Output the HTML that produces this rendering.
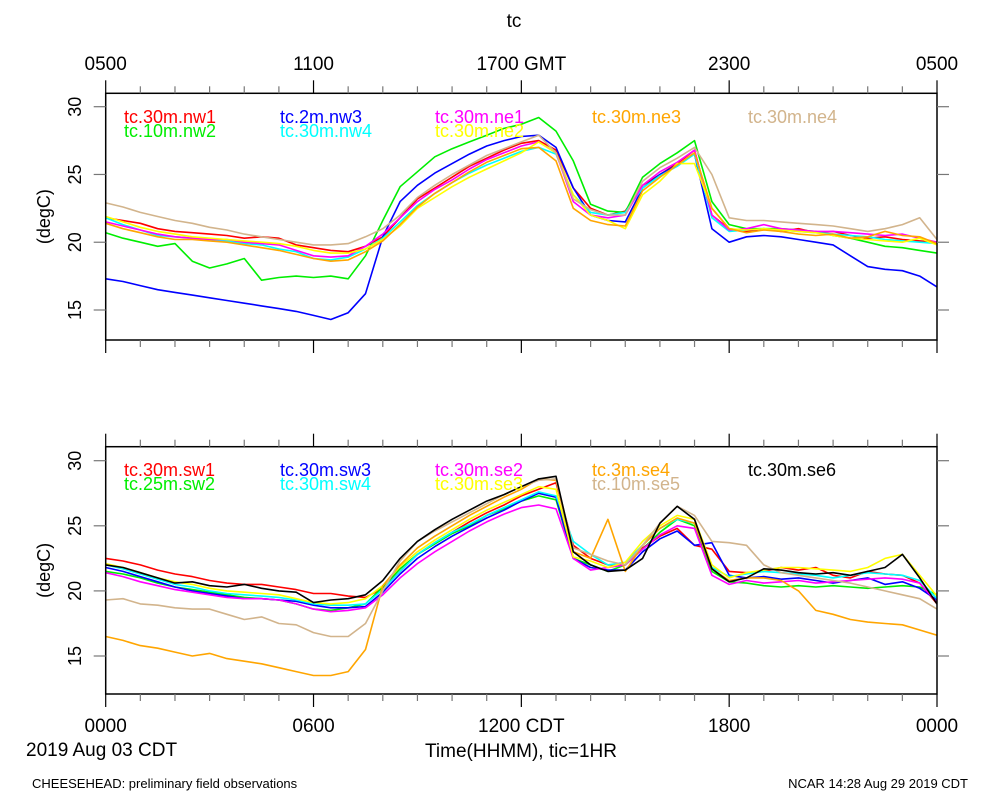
<!DOCTYPE html>
<html><head><meta charset="utf-8"><style>
html,body{margin:0;padding:0;background:#fff;}
svg{display:block;font-family:"Liberation Sans",Arial,sans-serif;}
</style></head><body>
<svg id="chart" width="1000" height="800" viewBox="0 0 1000 800"></svg>
<script>
// Shared time axis: hours since 0000 CDT, every 0.5 h
const hours = [0,0.5,1,1.5,2,2.5,3,3.5,4,4.5,5,5.5,6,6.5,7,7.5,8,8.5,9,9.5,10,10.5,11,11.5,12,12.5,13,13.5,14,14.5,15,15.5,16,16.5,17,17.5,18,18.5,19,19.5,20,20.5,21,21.5,22,22.5,23,23.5,24];
const topTickLabels = ["0500","1100","1700 GMT","2300","0500"];
const bottomTickLabels = ["0000","0600","1200 CDT","1800","0000"];
const yTickValues = [15,20,25,30];

// Top panel series
const nw1 = [21.8,21.6,21.4,21.0,20.8,20.7,20.6,20.5,20.3,20.4,20.3,19.8,19.6,19.4,19.3,19.7,20.4,21.8,23.2,24.0,24.8,25.6,26.2,26.8,27.3,27.5,26.8,24.0,22.5,22.0,22.3,24.2,25.0,25.8,26.8,22.0,21.0,20.8,21.0,20.8,21.0,20.7,20.8,20.5,20.3,20.4,20.2,20.1,20.0];
const nw2 = [20.7,20.3,20.0,19.7,19.9,18.6,18.1,18.4,18.8,17.2,17.4,17.5,17.4,17.5,17.3,19.0,21.6,24.1,25.2,26.3,26.9,27.4,27.9,28.4,28.7,29.2,28.2,26.0,22.8,22.3,22.2,24.8,25.8,26.6,27.5,23.0,21.3,21.0,21.0,21.0,20.9,20.8,20.5,20.3,20.0,19.7,19.6,19.4,19.2];
const nw3 = [17.3,17.1,16.8,16.5,16.3,16.1,15.9,15.7,15.5,15.3,15.1,14.9,14.6,14.3,14.8,16.2,20.4,23.0,24.2,25.1,25.8,26.5,27.1,27.5,27.8,27.9,27.0,24.0,22.0,21.6,21.5,24.0,25.0,25.7,26.5,21.0,20.0,20.4,20.5,20.4,20.2,20.0,19.8,19.0,18.2,18.0,17.9,17.5,16.7];
const nw4 = [21.8,21.3,20.9,20.5,20.4,20.3,20.2,20.1,19.9,19.8,19.5,19.3,18.8,18.7,18.9,19.5,20.3,21.5,22.7,23.6,24.4,25.1,25.7,26.2,26.7,27.0,26.5,23.5,22.2,22.0,22.2,24.0,24.9,25.6,26.5,21.8,20.8,20.9,21.0,20.9,20.8,20.7,20.6,20.5,20.4,20.2,20.1,20.0,19.9];
const ne1 = [21.5,21.2,20.9,20.6,20.4,20.3,20.2,20.2,20.0,19.9,19.8,19.4,19.0,18.9,19.0,19.7,20.6,21.8,23.0,23.9,24.6,25.4,26.1,26.6,27.1,27.4,26.6,23.0,22.0,21.8,22.0,24.2,25.2,25.9,26.8,22.0,20.9,21.0,21.3,21.0,20.9,20.8,20.8,20.7,20.6,20.5,20.6,20.3,20.0];
const ne2 = [21.9,21.5,21.1,20.8,20.6,20.4,20.3,20.2,20.1,20.0,19.9,19.7,19.4,19.2,19.2,19.5,20.2,21.2,22.5,23.3,24.1,24.8,25.4,26.0,26.6,27.4,26.6,23.5,22.0,21.6,21.0,23.5,24.5,25.8,25.8,22.5,21.0,20.9,21.0,20.9,20.8,20.7,20.5,20.3,20.2,20.1,20.0,20.3,19.8];
const ne3 = [21.4,21.0,20.7,20.4,20.2,20.2,20.1,20.0,19.8,19.6,19.4,19.1,18.8,18.6,18.7,19.3,20.1,21.3,22.6,23.6,24.4,25.2,25.9,26.4,26.9,27.0,26.0,22.5,21.6,21.3,21.2,23.8,24.8,25.7,26.6,22.5,21.0,20.7,20.9,20.8,20.6,20.5,20.6,20.3,20.4,20.8,20.5,20.4,19.9];
const ne4 = [22.9,22.6,22.2,21.9,21.6,21.4,21.1,20.9,20.6,20.4,20.2,20.0,19.8,19.8,19.9,20.4,21.0,22.0,23.3,24.2,25.0,25.7,26.4,26.9,27.4,27.9,26.6,23.2,22.4,22.0,22.0,24.5,25.5,26.2,27.0,25.0,21.8,21.6,21.6,21.5,21.4,21.3,21.2,21.0,20.8,21.0,21.3,21.8,20.2];

// Bottom panel series
const sw1 = [22.5,22.3,22.0,21.6,21.3,21.1,20.8,20.6,20.5,20.5,20.3,20.1,19.8,19.8,19.6,19.5,20.2,21.5,22.8,23.7,24.5,25.3,26.0,26.6,27.3,27.8,28.3,23.5,22.5,22.0,22.0,23.3,24.2,24.8,23.5,23.2,21.5,21.4,21.5,21.8,21.6,21.8,21.2,21.0,21.5,21.3,21.2,20.6,19.0];
const sw2 = [21.5,21.3,21.0,20.6,20.3,20.1,19.9,19.7,19.5,19.4,19.3,19.0,18.6,18.5,18.7,19.0,20.3,21.7,22.8,23.6,24.4,25.0,25.8,26.3,26.9,27.3,27.0,22.5,22.0,21.5,22.0,23.2,24.5,25.5,25.0,21.5,20.7,20.6,20.4,20.3,20.4,20.3,20.4,20.3,20.2,20.3,20.4,20.3,19.7];
const sw3 = [21.8,21.5,21.1,20.7,20.3,20.0,19.8,19.6,19.4,19.4,19.3,19.2,18.9,18.7,18.7,18.8,19.9,21.3,22.5,23.4,24.2,24.9,25.6,26.2,26.9,27.5,27.2,22.5,21.8,21.6,21.6,23.0,24.0,24.6,23.5,23.7,21.2,21.0,21.1,20.9,21.0,20.8,20.6,20.8,21.0,20.5,20.7,20.2,19.3];
const sw4 = [22.0,21.7,21.3,20.9,20.5,20.3,20.0,19.8,19.7,19.6,19.5,19.3,19.0,18.9,18.9,19.0,20.1,21.5,22.8,23.7,24.5,25.1,25.8,26.4,27.0,27.6,27.3,23.8,22.8,22.0,22.2,23.5,24.8,25.5,25.2,21.8,21.1,21.3,21.5,21.4,21.3,21.2,21.0,21.2,21.4,21.3,21.2,20.8,19.4];
const se2 = [21.4,21.1,20.7,20.4,20.1,19.9,19.7,19.5,19.4,19.4,19.3,19.0,18.6,18.4,18.5,18.7,19.7,21.0,22.1,23.0,23.8,24.6,25.3,25.9,26.4,26.6,26.3,22.5,21.6,21.8,22.0,23.2,24.3,25.0,24.8,21.2,20.5,20.8,20.6,20.7,20.8,20.6,20.7,20.8,20.9,21.0,20.9,20.6,19.1];
const se3 = [22.1,21.8,21.4,21.0,20.7,20.5,20.2,20.0,19.9,19.8,19.7,19.4,19.1,19.0,19.1,19.4,20.4,21.9,23.0,23.9,24.7,25.5,26.2,26.8,27.4,28.0,27.8,22.6,22.3,21.8,22.2,23.8,25.0,25.8,25.5,22.0,21.0,21.4,21.6,21.8,21.8,21.7,21.6,21.5,21.8,22.5,22.8,21.2,19.6];
const se4 = [16.5,16.2,15.8,15.6,15.3,15.0,15.2,14.8,14.6,14.4,14.1,13.8,13.5,13.5,13.8,15.5,20.4,22.0,23.3,24.2,25.0,25.8,26.5,27.2,27.8,28.6,28.5,23.0,22.5,25.5,21.5,23.5,24.8,25.6,25.2,21.7,20.8,21.0,21.0,20.8,20.0,18.5,18.2,17.8,17.6,17.5,17.4,17.0,16.6];
const se5 = [19.3,19.4,19.0,18.9,18.7,18.6,18.6,18.2,17.8,18.0,17.5,17.4,16.8,16.5,16.5,17.5,20.0,22.3,23.8,24.6,25.3,26.0,26.7,27.4,28.0,28.5,28.6,23.3,22.8,22.3,22.0,23.5,25.2,26.5,25.8,23.8,23.7,23.5,22.0,21.4,21.2,21.0,20.8,20.6,20.3,20.0,19.7,19.4,18.6];
const se6 = [22.0,21.8,21.4,21.0,20.6,20.7,20.4,20.3,20.5,20.2,20.0,19.9,19.1,19.3,19.4,19.7,20.8,22.5,23.8,24.7,25.5,26.2,26.9,27.4,28.0,28.6,28.8,23.0,22.0,21.5,21.6,22.5,25.2,26.5,25.5,21.7,20.7,21.0,21.7,21.6,21.4,21.3,21.4,21.2,21.5,21.8,22.8,21.0,19.0];

const NS = "http://www.w3.org/2000/svg";
const svg = document.getElementById('chart');
const X0 = 105.7, X1 = 937;
function xScale(h){ return X0 + (X1 - X0) * h / 24; }
const panels = [
  {top:93.3, bottom:340, y30:106.7, y15:310, name:'top-panel',
   series:[['tc.30m.nw1',nw1,'#ff0000'],['tc.10m.nw2',nw2,'#00ee00'],['tc.2m.nw3',nw3,'#0000ff'],['tc.30m.nw4',nw4,'#00ffff'],['tc.30m.ne1',ne1,'#ff00ff'],['tc.30m.ne2',ne2,'#ffff00'],['tc.30m.ne3',ne3,'#ffa500'],['tc.30m.ne4',ne4,'#d2b48c']],
   legend:[[0,0],[0,1],[1,0],[1,1],[2,0],[2,1],[3,0],[4,0]], legY:123, axisLabels:topTickLabels, labelAbove:true},
  {top:446.7, bottom:694, y30:460.7, y15:656, name:'bottom-panel',
   series:[['tc.30m.sw1',sw1,'#ff0000'],['tc.25m.sw2',sw2,'#00ee00'],['tc.30m.sw3',sw3,'#0000ff'],['tc.30m.sw4',sw4,'#00ffff'],['tc.30m.se2',se2,'#ff00ff'],['tc.30m.se3',se3,'#ffff00'],['tc.3m.se4',se4,'#ffa500'],['tc.10m.se5',se5,'#d2b48c'],['tc.30m.se6',se6,'#000000']],
   legend:[[0,0],[0,1],[1,0],[1,1],[2,0],[2,1],[3,0],[3,1],[4,0]], legY:476, axisLabels:bottomTickLabels, labelAbove:false}
];
const legX = [124,280,435,592,748];

function mk(tag, attrs, parent){
  const e = document.createElementNS(NS, tag);
  for (const k in attrs) e.setAttribute(k, attrs[k]);
  (parent||svg).appendChild(e);
  return e;
}

panels.forEach(p => {
  const yScale = v => p.y15 + (v - 15) * (p.y30 - p.y15) / 15;
  const g = mk('g', {});
  
  
  // clip
  const cid = 'clip-' + p.name;
  const cp = mk('clipPath', {id: cid}, g);
  mk('rect', {x:X0, y:p.top, width:X1-X0, height:p.bottom-p.top}, cp);
  // series lines
  p.series.forEach((s, i) => {
    const d = hours.map((h, j) => (j ? 'L' : 'M') + xScale(h).toFixed(1) + ',' + yScale(s[1][j]).toFixed(1)).join('');
    const path = mk('path', {d:d, fill:'none', stroke:s[2], 'stroke-width':1.6, 'stroke-linejoin':'round', 'clip-path':'url(#'+cid+')'}, g);
    
    
  });
  // legend
  p.series.forEach((s, i) => {
    const pos = p.legend[i];
    const t = mk('text', {x:legX[pos[0]], y:p.legY + pos[1]*14, fill:s[2], 'font-size':18}, g);
    t.textContent = s[0];
    
    
  });
  // frame
  const fr = mk('rect', {x:X0, y:p.top, width:X1-X0, height:p.bottom-p.top, fill:'none', stroke:'#000', 'stroke-width':1.5}, g);
  
  
  // x ticks
  for (let h = 0; h <= 24; h++) {
    const x = xScale(h);
    const major = h % 6 === 0;
    const len = major ? 13 : 7;
    mk('line', {x1:x, x2:x, y1:p.top, y2:p.top-len, stroke: major?'#000':'#777', 'stroke-width':1.2}, g);
    mk('line', {x1:x, x2:x, y1:p.bottom, y2:p.bottom+len, stroke: major?'#000':'#777', 'stroke-width':1.2}, g);
  }
  // x labels
  p.axisLabels.forEach((lab, i) => {
    const t = mk('text', {x:xScale(i*6), y:p.labelAbove ? 70 : 732, 'text-anchor':'middle', 'font-size':19, fill:'#000'}, g);
    t.textContent = lab;
    
    
  });
  // y ticks and labels
  yTickValues.forEach(v => {
    const y = yScale(v);
    mk('line', {x1:X0-12, x2:X0, y1:y, y2:y, stroke:'#777', 'stroke-width':1.2}, g);
    mk('line', {x1:X1, x2:X1+12, y1:y, y2:y, stroke:'#777', 'stroke-width':1.2}, g);
    const t = mk('text', {x:0, y:0, 'text-anchor':'middle', 'font-size':18, fill:'#000', transform:'translate(81,'+y+') rotate(-90)'}, g);
    t.textContent = String(v);
    
    
  });
  const yt = mk('text', {x:0, y:0, 'text-anchor':'middle', 'font-size':18, fill:'#000', transform:'translate(50,'+((p.top+p.bottom)/2)+') rotate(-90)'}, g);
  yt.textContent = '(degC)';
  
  
});
</script>
<svg width="0" height="0"></svg>
<div style="position:absolute;left:0;top:0;width:1000px;height:800px;pointer-events:none;font-family:'Liberation Sans',Arial,sans-serif;">
</div>
<script>
(function(){
  const svg = document.getElementById('chart');
  const NS = "http://www.w3.org/2000/svg";
  function txt(x,y,s,size,anchor,name){
    const t = document.createElementNS(NS,'text');
    t.setAttribute('x',x); t.setAttribute('y',y);
    t.setAttribute('font-size',size); t.setAttribute('text-anchor',anchor); t.setAttribute('fill','#000');
    t.textContent = s;
    
    
    svg.appendChild(t);
  }
  txt(514,27,'tc',19,'middle','chart-title');
  txt(26,756,'2019 Aug 03 CDT',19,'start','date-label');
  txt(521,757,'Time(HHMM), tic=1HR',19,'middle','x-axis-title');
  txt(32,788,'CHEESEHEAD: preliminary field observations',13,'start','footer-left');
  txt(968,788,'NCAR 14:28 Aug 29 2019 CDT',13,'end','footer-right');
})();
</script>
</body></html>
